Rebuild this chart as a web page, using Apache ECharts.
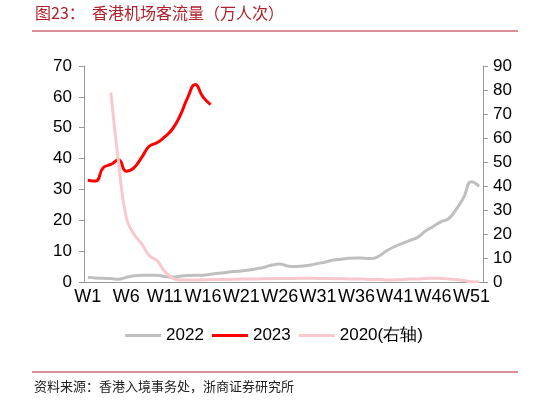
<!DOCTYPE html>
<html><head><meta charset="utf-8">
<script src="https://cdn.jsdelivr.net/npm/echarts@6/dist/echarts.min.js"></script>
<style>html,body{margin:0;padding:0;background:#fff}#c{width:548px;height:402px}</style>
</head><body><div id="c"></div>
<script>
var weeks = [];
for (var i = 1; i <= 52; i++) weeks.push('W' + i);
var s2022 = [1.5,1.3,1.2,1.1,0.9,1.5,2,2.2,2.2,2.2,1.8,1.6,1.9,2.1,2.2,2.2,2.5,2.8,3.1,3.4,3.6,3.9,4.3,4.8,5.5,5.8,5.2,5.0,5.2,5.5,6.0,6.5,7.1,7.4,7.7,7.8,7.7,7.6,8.5,10.2,11.5,12.5,13.5,14.5,16.5,18,19.5,20.5,23.5,27.5,32.5,31];
var s2023 = [33,32.7,37,38.1,39.6,35.9,37,40.3,44,45.1,47,49.5,53.8,59.7,64,60,57.5];
var s2020 = [null,null,null,79,50,27,20,16,11,9,4.5,1.7,0.8,
  0.8,0.8,0.9,1.0,1.0,1.0,1.1,1.2,1.3,1.3,1.4,1.4,1.5,1.5,1.5,1.6,1.6,1.5,1.5,1.4,1.4,1.3,1.3,1.2,1.0,1.0,0.8,0.9,1.0,1.2,1.3,1.5,1.6,1.5,1.3,1.0,0.6,0.1,0];
var chart = echarts.init(document.getElementById('c'));
var lbl = {color:'#000', fontSize:17, fontFamily:'Liberation Sans'};
chart.setOption({
  animation:false,
  graphic:[
    {type:'text', left:35, top:5, style:{text:'图23：  香港机场客流量（万人次）', fill:'#b0202a', font:'16px "Noto Sans CJK SC"'}},
    {type:'line', shape:{x1:32,y1:31,x2:518,y2:31}, style:{stroke:'#b0202a', lineWidth:1}},
    {type:'line', shape:{x1:32,y1:372,x2:518,y2:372}, style:{stroke:'#b0202a', lineWidth:1}},
    {type:'text', left:34, top:380, style:{text:'资料来源：香港入境事务处，浙商证券研究所', fill:'#222', font:'13px "Noto Sans CJK SC"'}}
  ],
  legend:{top:322, left:'center', itemWidth:36, itemHeight:3, itemGap:8, icon:'rect',
    textStyle:{fontSize:17, color:'#000', fontFamily:'Liberation Sans'},
    data:['2022','2023','2020(右轴)']},
  grid:{left:84, right:65, top:66, bottom:120},
  xAxis:{type:'category', data:weeks, boundaryGap:true,
    axisLine:{lineStyle:{color:'#999'}}, axisTick:{interval:4, lineStyle:{color:'#999'}},
    axisLabel:Object.assign({interval:4, margin:6}, lbl, {fontSize:18})},
  yAxis:[
    {type:'value', min:0, max:70, interval:10, axisLine:{show:true, lineStyle:{color:'#999'}},
      axisTick:{show:true, lineStyle:{color:'#999'}}, splitLine:{show:false}, axisLabel:Object.assign({margin:12}, lbl)},
    {type:'value', min:0, max:90, interval:10, axisLine:{show:true, lineStyle:{color:'#999'}},
      axisTick:{show:true, lineStyle:{color:'#999'}}, splitLine:{show:false}, axisLabel:Object.assign({margin:10}, lbl)}
  ],
  series:[
    {name:'2022', type:'line', data:s2022, smooth:true, symbol:'none', itemStyle:{color:'#bfbfbf'}, lineStyle:{width:3, color:'#bfbfbf'}},
    {name:'2023', type:'line', data:s2023, smooth:true, symbol:'none', itemStyle:{color:'#ff0000'}, lineStyle:{width:3, color:'#ff0000'}},
    {name:'2020(右轴)', type:'line', yAxisIndex:1, data:s2020, smooth:true, symbol:'none', itemStyle:{color:'#f8c8cc'}, lineStyle:{width:3, color:'#f8c8cc'}}
  ]
});
</script></body></html>
